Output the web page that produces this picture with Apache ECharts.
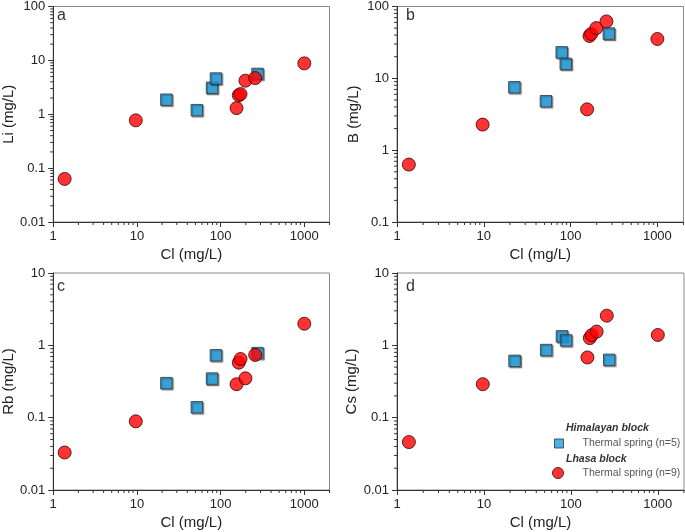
<!DOCTYPE html>
<html>
<head>
<meta charset="utf-8">
<script src="https://cdn.jsdelivr.net/npm/echarts@6/dist/echarts.min.js"></script>
<style>
html,body{margin:0;padding:0;background:#fff;}
#chart{width:685px;height:532px;}
</style>
</head>
<body>
<div id="chart"></div>
<script>
// Cl (mg/L) for each group
const clHimalaya = [22.5, 52, 79, 88, 276];
const clLhasa = [1.37, 9.7, 155, 165, 173, 198, 259, 1000];
// Panel a: Li
const liHimalaya = [1.86, 1.19, 3.1, 4.6, 5.6];
const liLhasa = [0.063, 0.77, 1.3, 2.25, 2.37, 4.2, 4.7, 8.8];
// Panel b: B
const bHimalaya = [7.5, 4.8, 23, 15.9, 42];
const bLhasa = [0.63, 2.27, 3.7, 38.9, 41.5, 50, 62, 35.3];
// Panel c: Rb
const rbHimalaya = [0.30, 0.139, 0.347, 0.728, 0.78];
const rbLhasa = [0.033, 0.089, 0.29, 0.576, 0.647, 0.35, 0.736, 1.99];
// Panel d: Cs
const csHimalaya = [0.61, 0.86, 1.33, 1.17, 0.63];
const csLhasa = [0.046, 0.29, 0.68, 1.26, 1.38, 1.55, 2.57, 1.39];

const panelLetters = ['a', 'b', 'c', 'd'];
const yNames = ['Li (mg/L)', 'B (mg/L)', 'Rb (mg/L)', 'Cs (mg/L)'];
const xName = 'Cl (mg/L)';
const xRange = [1, 2000];
const yRanges = [[0.01, 100], [0.1, 100], [0.01, 10], [0.01, 10]];
const nameH = 'Thermal spring (n=5)';
const nameL = 'Thermal spring (n=9)';
const headerH = 'Himalayan block';
const headerL = 'Lhasa block';

const yH = [liHimalaya, bHimalaya, rbHimalaya, csHimalaya];
const yL = [liLhasa, bLhasa, rbLhasa, csLhasa];

function minorVals(lo, hi) {
  const out = [];
  for (let d = lo; d < hi; d *= 10) {
    for (let k = 2; k <= 9; k++) {
      const v = +(k * d).toPrecision(6);
      if (v <= hi) out.push(v);
    }
  }
  return out;
}

const grids = [
  {left: 47.5, top: 5, width: 282, height: 217},
  {left: 397, top: 5, width: 286.5, height: 217},
  {left: 47.5, top: 273, width: 282, height: 217},
  {left: 397, top: 273, width: 287, height: 217}
];
const yNameGaps = [33, 36, 34, 36];

const axisColor = '#333';
const labelStyle = {color: '#222', fontFamily: 'Liberation Sans, Arial, sans-serif', fontSize: 13};

function fmt(v) { return String(+(+v).toPrecision(4)); }

const blueStyle = {color: '#1a9fe3', borderColor: '#333', borderWidth: 1};
const redStyle = {color: '#ff0000', borderColor: '#3a0000', borderWidth: 1};

const option = {
  animation: false,
  backgroundColor: '#fff',
  grid: grids.map(g => Object.assign({show: true, borderColor: '#8a8a8a', borderWidth: 1, containLabel: false}, g)),
  xAxis: grids.map((g, i) => ({
    type: 'log', logBase: 10, gridIndex: i, min: xRange[0], max: xRange[1],
    name: xName, nameLocation: 'middle', nameGap: 25,
    nameTextStyle: {color: '#222', fontFamily: 'Liberation Sans, Arial, sans-serif', fontSize: 15},
    axisLine: {show: true, lineStyle: {color: axisColor, width: 1}},
    axisTick: {show: true, inside: false, length: 5, lineStyle: {color: axisColor}},
    minorTick: {show: false},
    splitLine: {show: false},
    axisLabel: Object.assign({margin: 8, showMaxLabel: false, formatter: fmt}, labelStyle)
  })),
  yAxis: grids.map((g, i) => ({
    type: 'log', logBase: 10, gridIndex: i, min: yRanges[i][0], max: yRanges[i][1],
    name: yNames[i], nameLocation: 'middle', nameGap: yNameGaps[i], nameRotate: 90,
    nameTextStyle: {color: '#222', fontFamily: 'Liberation Sans, Arial, sans-serif', fontSize: 15},
    axisLine: {show: true, lineStyle: {color: axisColor, width: 1}},
    axisTick: {show: true, inside: false, length: 5, lineStyle: {color: axisColor}},
    splitLine: {show: false},
    axisLabel: Object.assign({margin: 8, formatter: fmt}, labelStyle)
  })),
  legend: [
    {
      data: [nameH], left: 554, top: 438, orient: 'vertical', icon: 'rect',
      itemWidth: 9, itemHeight: 9, padding: 0,
      itemStyle: Object.assign({shadowBlur: 0, shadowOffsetX: 0, shadowOffsetY: 0}, blueStyle),
      textStyle: {color: '#555', fontFamily: 'Liberation Sans, Arial, sans-serif', fontSize: 10.5, padding: [0, 0, 0, 14]},
      selectedMode: false
    },
    {
      data: [nameL], left: 552, top: 467, orient: 'vertical', icon: 'circle',
      itemWidth: 11, itemHeight: 11, padding: 0,
      itemStyle: Object.assign({shadowBlur: 0, shadowOffsetX: 0, shadowOffsetY: 0}, redStyle),
      textStyle: {color: '#555', fontFamily: 'Liberation Sans, Arial, sans-serif', fontSize: 10.5, padding: [0, 0, 0, 14]},
      selectedMode: false
    }
  ],
  graphic: [],
  series: []
};

const letterPos = [[57, 16.5], [406, 16.5], [57, 287.5], [406, 287.5]];
panelLetters.forEach((t, i) => {
  option.graphic.push({
    type: 'text', left: letterPos[i][0], top: letterPos[i][1] - 9,
    style: {text: t, fill: '#333', font: '16px "Liberation Sans", Arial, sans-serif'}
  });
});
option.graphic.push({
  type: 'text', left: 566, top: 423,
  style: {text: headerH, fill: '#333', font: 'italic bold 10.5px "Liberation Sans", Arial, sans-serif'}
});
option.graphic.push({
  type: 'text', left: 566, top: 454,
  style: {text: headerL, fill: '#333', font: 'italic bold 10.5px "Liberation Sans", Arial, sans-serif'}
});

const xMinor = minorVals(xRange[0], xRange[1]);

for (let i = 0; i < 4; i++) {
  const yMin = yRanges[i][0];
  const yMinorV = minorVals(yRanges[i][0], yRanges[i][1]);
  option.series.push({
    type: 'custom', name: 'xminor', xAxisIndex: i, yAxisIndex: i, silent: true, clip: false,
    data: xMinor.map(v => [v, yMin]),
    renderItem: (params, api) => {
      const p = api.coord([api.value(0), api.value(1)]);
      return {type: 'line', shape: {x1: p[0], y1: p[1], x2: p[0], y2: p[1] + 3}, style: {stroke: axisColor, lineWidth: 1}};
    }
  });
  option.series.push({
    type: 'custom', name: 'yminor', xAxisIndex: i, yAxisIndex: i, silent: true, clip: false,
    data: yMinorV.map(v => [xRange[0], v]),
    renderItem: (params, api) => {
      const p = api.coord([api.value(0), api.value(1)]);
      return {type: 'line', shape: {x1: p[0] - 3, y1: p[1], x2: p[0], y2: p[1]}, style: {stroke: axisColor, lineWidth: 1}};
    }
  });
  option.series.push({
    type: 'scatter', name: nameH, xAxisIndex: i, yAxisIndex: i,
    symbol: 'rect', symbolSize: 11.5,
    itemStyle: Object.assign({shadowColor: 'rgba(0,0,0,0.45)', shadowOffsetX: 1.2, shadowOffsetY: 1.2, shadowBlur: 1}, blueStyle),
    data: clHimalaya.map((x, k) => [x, yH[i][k]]), z: 3
  });
  option.series.push({
    type: 'scatter', name: nameL, xAxisIndex: i, yAxisIndex: i,
    symbol: 'circle', symbolSize: 13,
    itemStyle: Object.assign({}, redStyle),
    data: clLhasa.map((x, k) => [x, yL[i][k]]), z: 4
  });
}

const chart = echarts.init(document.getElementById('chart'), null, {renderer: 'canvas'});
chart.setOption(option);
</script>
</body>
</html>
